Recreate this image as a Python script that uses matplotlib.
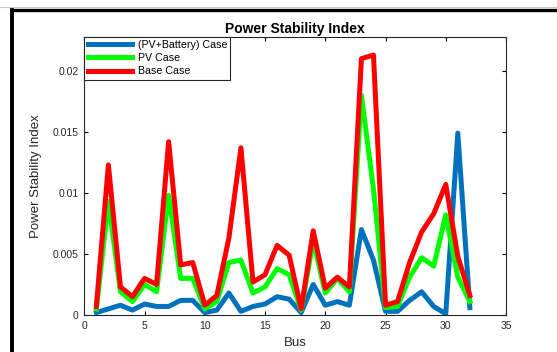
import matplotlib
matplotlib.use('Agg')
import matplotlib.pyplot as plt
from matplotlib.lines import Line2D
from matplotlib.ticker import FuncFormatter

plt.rcParams['font.family'] = ['Liberation Sans', 'DejaVu Sans']

bus = list(range(1, 33))

pv_battery = [0.0002, 0.0005, 0.0008, 0.0004, 0.0009, 0.0007, 0.0007, 0.0012,
              0.0012, 0.0002, 0.0004, 0.0018, 0.0003, 0.0007, 0.0009, 0.0015,
              0.0013, 0.0002, 0.0025, 0.0008, 0.0011, 0.0008, 0.0070, 0.0045,
              0.0003, 0.0003, 0.0012, 0.0019, 0.0007, 0.0001, 0.0149, 0.0006]

pv = [0.0005, 0.0093, 0.0019, 0.0011, 0.0025, 0.0019, 0.0098, 0.0030,
      0.0030, 0.0005, 0.0011, 0.0043, 0.0045, 0.0018, 0.0023, 0.0038,
      0.0033, 0.0004, 0.0061, 0.0018, 0.0030, 0.0019, 0.0180, 0.0103,
      0.0006, 0.0007, 0.0031, 0.0047, 0.0040, 0.0082, 0.0031, 0.0011]

base = [0.0007, 0.0123, 0.0023, 0.0015, 0.0030, 0.0025, 0.0142, 0.0041,
        0.0043, 0.0008, 0.0016, 0.0063, 0.0137, 0.0027, 0.0033, 0.0057,
        0.0049, 0.0005, 0.0069, 0.0022, 0.0031, 0.0023, 0.0210, 0.0213,
        0.0008, 0.0011, 0.0043, 0.0068, 0.0083, 0.0107, 0.0048, 0.0016]

W, H = 557, 352
fig = plt.figure(figsize=(W / 100, H / 100), dpi=100)
ax = fig.add_axes([84.3 / W, 1 - 315 / H, (506 - 84.3) / W, (315 - 36.7) / H])

lw = 3.6
ax.plot(bus, pv_battery, color='#0072BD', lw=lw, label='(PV+Battery) Case')
ax.plot(bus, pv, color='#00FF00', lw=lw, label='PV Case')
ax.plot(bus, base, color='#FF0000', lw=lw, label='Base Case')

ax.set_xlim(0, 35)
ax.set_ylim(0, 0.0228)
ax.set_xticks(range(0, 36, 5))
ax.set_yticks([0, 0.005, 0.01, 0.015, 0.02])
ax.yaxis.set_major_formatter(FuncFormatter(lambda v, p: '%g' % v))
ax.tick_params(direction='in', top=True, right=True, labelsize=7.5,
               labelcolor='#262626', length=3, width=0.8, pad=4)
for s in ax.spines.values():
    s.set_linewidth(0.8)
    s.set_color('#262626')

ax.set_title('Power Stability Index', fontsize=10, fontweight='bold', pad=3)
ax.set_xlabel('Bus', fontsize=9.5, color='#262626', labelpad=5)
ax.set_ylabel('Power Stability Index', fontsize=9.5, color='#262626', labelpad=8)

leg = ax.legend(loc='upper left', fontsize=7.7, borderaxespad=0, fancybox=False,
                framealpha=1, edgecolor='#262626', handlelength=4.2,
                labelspacing=0.3, borderpad=0.3, handletextpad=0.5)
leg.get_frame().set_linewidth(0.8)

# screenshot frame
fig.add_artist(Line2D([12 / W, 1], [1 - 9.7 / H, 1 - 9.7 / H], color='black', lw=2.4,
                      transform=fig.transFigure))
fig.add_artist(Line2D([12 / W, 12 / W], [1 - 9.7 / H, 0], color='black', lw=2.8,
                      transform=fig.transFigure))
fig.add_artist(Line2D([0, 1], [1 - 6.5 / H, 1 - 6.5 / H], color='#c8c8c8', lw=0.8,
                      transform=fig.transFigure))

fig.savefig('out.png', dpi=100)
